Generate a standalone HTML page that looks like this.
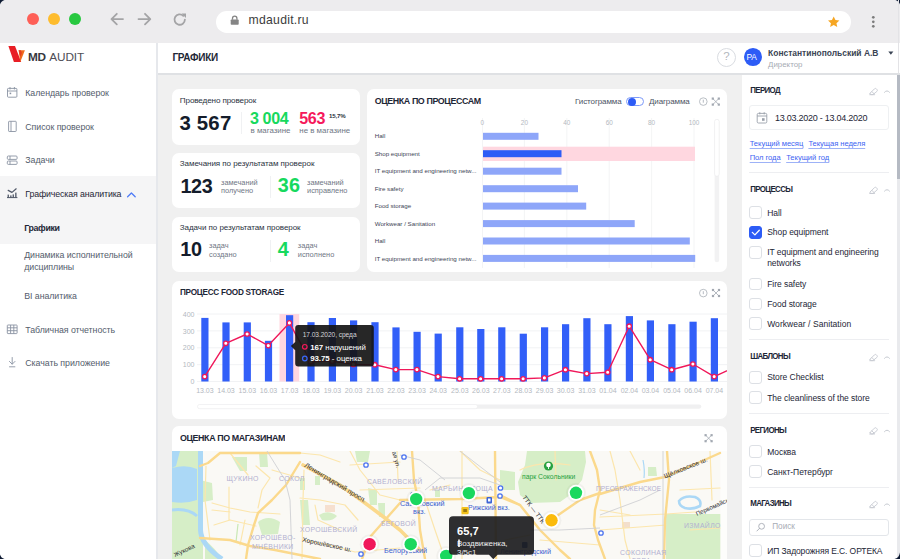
<!DOCTYPE html>
<html><head><meta charset="utf-8">
<style>
*{margin:0;padding:0;box-sizing:border-box}
html,body{width:900px;height:559px;overflow:hidden;background:#f0f0f0;font-family:"Liberation Sans",sans-serif;color:#1a2233}
.a{position:absolute;white-space:nowrap}
svg{position:absolute;overflow:visible}
.card{position:absolute;background:#fff;border-radius:7px;overflow:hidden}
.cb{position:absolute;left:749.3px;width:12.6px;height:12.6px;border:1px solid #dde0e5;border-radius:3px;background:#fff}
.sep{position:absolute;left:749.3px;width:140px;height:1px;background:#edeef1}
</style></head><body>
<div class="a" style="left:0;top:0;width:900px;height:43px;background:#edecee"></div>
<div class="a" style="left:26.8px;top:12.8px;width:12.4px;height:12.4px;border-radius:50%;background:#fe5f57"></div>
<div class="a" style="left:47.8px;top:12.8px;width:12.4px;height:12.4px;border-radius:50%;background:#febc2e"></div>
<div class="a" style="left:68.8px;top:12.8px;width:12.4px;height:12.4px;border-radius:50%;background:#28c840"></div>
<svg style="left:0;top:0" width="900" height="43" viewBox="0 0 900 43">
<g fill="none" stroke="#a4a4a6" stroke-width="1.8" stroke-linecap="round" stroke-linejoin="round">
<path d="M111.5 19.1h11.5M116.8 13.8l-5.3 5.3 5.3 5.3"/>
<path d="M138.5 19.1h11.5M145 13.8l5.3 5.3-5.3 5.3"/>
<path d="M184.9 19.6a5.2 5.2 0 1 1-1.6-3.8"/>
</g><path d="M181.6 13.6h4.4v4.4z" fill="#a4a4a6"/></svg>
<div class="a" style="left:216.4px;top:11.2px;width:634.5px;height:21.4px;background:#fff;border-radius:10.7px"></div>
<svg style="left:0;top:0" width="900" height="43" viewBox="0 0 900 43">
<path d="M232.5 19.8v-1.5a2.2 2.2 0 0 1 4.4 0v1.5" fill="none" stroke="#858585" stroke-width="1.3"/>
<rect x="230.7" y="19.4" width="8" height="5.3" rx="0.8" fill="#858585"/>
<path d="M833.7 16.4l1.75 3.6 3.95.45-2.95 2.7.8 3.9-3.55-2-3.55 2 .8-3.9-2.95-2.7 3.95-.45z" fill="#f6a623"/>
<circle cx="873.3" cy="17.3" r="1.35" fill="#7c7c7c"/><circle cx="873.3" cy="21.8" r="1.35" fill="#7c7c7c"/><circle cx="873.3" cy="26.3" r="1.35" fill="#7c7c7c"/>
</svg>
<div class="a" style="left:248.60px;top:14.07px;font-size:12.2px;line-height:12.2px;font-weight:normal;color:#3c3c3c;letter-spacing:0.27px;">mdaudit.ru</div>
<div class="a" style="left:0;top:43px;width:156px;height:516px;background:#fff"></div>
<div class="a" style="left:156px;top:43px;width:1.5px;height:516px;background:#e6e8ec"></div>
<div class="a" style="left:0;top:176.3px;width:156px;height:67.4px;background:#f5f5f6"></div>
<svg style="left:0;top:0" width="60" height="70" viewBox="0 0 60 70">
<path d="M8.4 46.1h6.6l6.2 15.9h-7.3z" fill="#e81e25"/>
<path d="M18.6 50.2h6.3l-4.6 11.8z" fill="#f06a1c"/>
<path d="M18.6 50.2h2.2l1.1 2.9-1.5 3.6z" fill="#e43f22"/>
</svg>
<div class="a" style="left:27.90px;top:52.01px;font-size:11.8px;line-height:11.8px;font-weight:bold;color:#38383f;letter-spacing:-0.3px;">MD</div>
<div class="a" style="left:49.30px;top:52.01px;font-size:11.8px;line-height:11.8px;font-weight:normal;color:#4e4e56;letter-spacing:-0.15px;">AUDIT</div>
<div class="a" style="left:25.30px;top:88.65px;font-size:8.8px;line-height:8.8px;font-weight:normal;color:#545d6c;letter-spacing:-0.05px;">Календарь проверок</div>
<div class="a" style="left:25.30px;top:122.65px;font-size:8.8px;line-height:8.8px;font-weight:normal;color:#545d6c;letter-spacing:-0.05px;">Список проверок</div>
<div class="a" style="left:25.30px;top:156.45px;font-size:8.8px;line-height:8.8px;font-weight:normal;color:#545d6c;letter-spacing:-0.05px;">Задачи</div>
<div class="a" style="left:25.30px;top:326.05px;font-size:8.8px;line-height:8.8px;font-weight:normal;color:#545d6c;letter-spacing:-0.05px;">Табличная отчетность</div>
<div class="a" style="left:25.30px;top:359.15px;font-size:8.8px;line-height:8.8px;font-weight:normal;color:#545d6c;letter-spacing:-0.05px;">Скачать приложение</div>
<div class="a" style="left:25.30px;top:190.35px;font-size:8.8px;line-height:8.8px;font-weight:normal;color:#1f2737;letter-spacing:-0.13px;">Графическая аналитика</div>
<div class="a" style="left:24.20px;top:224.05px;font-size:8.8px;line-height:8.8px;font-weight:bold;color:#1f2737;letter-spacing:-0.35px;">Графики</div>
<div class="a" style="left:24.20px;top:250.95px;font-size:8.8px;line-height:8.8px;font-weight:normal;color:#545d6c;letter-spacing:-0.05px;">Динамика исполнительной</div>
<div class="a" style="left:24.20px;top:262.95px;font-size:8.8px;line-height:8.8px;font-weight:normal;color:#545d6c;letter-spacing:-0.05px;">дисциплины</div>
<div class="a" style="left:24.20px;top:292.15px;font-size:8.8px;line-height:8.8px;font-weight:normal;color:#545d6c;letter-spacing:-0.05px;">BI аналитика</div>
<svg style="left:0;top:0" width="157" height="400" viewBox="0 0 157 400">
<g fill="none" stroke="#8a93a3" stroke-width="0.9">
<rect x="7.5" y="88.4" width="9.4" height="8.8" rx="0.8"/><path d="M7.5 91h9.4M10 87v2.5M14.4 87v2.5"/><rect x="9.6" y="92.6" width="1.6" height="1.6" fill="#8a93a3" stroke="none"/>
<rect x="8.6" y="121.3" width="7.6" height="10.2" rx="0.6"/><path d="M11 121.3v10.2"/>
<rect x="7.3" y="156" width="9.8" height="3.4" rx="1"/><rect x="7.3" y="161" width="9.8" height="3.4" rx="1"/><path d="M10 156v3.4M10 161v3.4"/>

<rect x="7.3" y="325" width="9.8" height="8.6" rx="0.6"/><path d="M7.3 327.8h9.8M7.3 330.7h9.8M10.6 325v8.6M13.8 325v8.6"/>
<path d="M12.2 357.5v6.5M9.4 361.4l2.8 2.8 2.8-2.8M9.5 366.8h5.4" stroke-linecap="round"/>
</g>
<g fill="none" stroke="#4f5767" stroke-width="1.2" stroke-linecap="round" stroke-linejoin="round"><path d="M8.2 190.4L12 192.4L16.2 188.8"/><path d="M7.4 197.6H17" stroke-width="1"/></g><g fill="#4f5767"><rect x="7.6" y="194.6" width="1.3" height="3"/><rect x="10.2" y="195.4" width="1.3" height="2.2"/><rect x="12.6" y="194.4" width="1.3" height="3.2"/><rect x="15.2" y="192.6" width="1.3" height="5"/></g>
<path d="M127.6 196.8l3.8-3.8 3.8 3.8" fill="none" stroke="#4f7cf7" stroke-width="1.3" stroke-linecap="round" stroke-linejoin="round"/>
</svg>
<div class="a" style="left:157.5px;top:43px;width:742.5px;height:30.5px;background:#fff"></div>
<div class="a" style="left:157.5px;top:73px;width:742.5px;height:2px;background:#dfe1e4"></div>
<div class="a" style="left:172.50px;top:53.14px;font-size:10.0px;line-height:10.0px;font-weight:bold;color:#1f2838;letter-spacing:-0.3px;">ГРАФИКИ</div>
<div class="a" style="left:716.8px;top:47.6px;width:19px;height:19px;border:1px solid #d9dce1;border-radius:50%"></div>
<div class="a" style="left:723.20px;top:51.47px;font-size:11.5px;line-height:11.5px;font-weight:normal;color:#b2b6bd;letter-spacing:0px;">?</div>
<div class="a" style="left:743.8px;top:48px;width:17.8px;height:17.8px;border-radius:50%;background:#2d5cf6"></div>
<div class="a" style="left:746.50px;top:52.89px;font-size:8.4px;line-height:8.4px;font-weight:normal;color:#fff;letter-spacing:-0.2px;">PA</div>
<div class="a" style="left:768.10px;top:48.95px;font-size:8.45px;line-height:8.45px;font-weight:bold;color:#3a4454;letter-spacing:0px;">Константинопольский А.В</div>
<div class="a" style="left:768.10px;top:60.71px;font-size:7.9px;line-height:7.9px;font-weight:normal;color:#a7acb4;letter-spacing:0px;">Директор</div>
<svg style="left:0;top:0" width="900" height="74"><path d="M888.3 51.6h5.1l-2.55 3.1z" fill="#3a4454"/></svg>
<div class="a" style="left:742px;top:75px;width:155px;height:485px;background:#fff"></div>
<div class="a" style="left:897px;top:75px;width:3px;height:485px;background:#e9eaed"></div>
<div class="a" style="left:897px;top:75px;width:3px;height:104px;background:#b5bac3"></div>
<div class="card" style="left:172.4px;top:89px;width:187.4px;height:56.30000000000001px;border-radius:7px"></div>
<div class="card" style="left:172.2px;top:153px;width:187.40000000000003px;height:55.400000000000006px;border-radius:7px"></div>
<div class="card" style="left:172.2px;top:217.2px;width:187.40000000000003px;height:55.10000000000002px;border-radius:7px"></div>
<div class="a" style="left:179.80px;top:96.94px;font-size:8.1px;line-height:8.1px;font-weight:normal;color:#2a3242;letter-spacing:-0.12px;">Проведено проверок</div>
<div class="a" style="left:179.40px;top:112.53px;font-size:20.4px;line-height:20.4px;font-weight:bold;color:#141c2b;letter-spacing:0.2px;">3 567</div>
<div class="a" style="left:241px;top:112px;width:1px;height:22px;background:#f0f1f3"></div>
<div class="a" style="left:250.00px;top:109.97px;font-size:16.1px;line-height:16.1px;font-weight:bold;color:#17d95e;letter-spacing:-0.4px;">3 004</div>
<div class="a" style="left:250.50px;top:126.61px;font-size:7.9px;line-height:7.9px;font-weight:normal;color:#6f7785;letter-spacing:0px;">в магазине</div>
<div class="a" style="left:299.30px;top:109.97px;font-size:16.1px;line-height:16.1px;font-weight:bold;color:#f5195b;letter-spacing:-0.4px;">563</div>
<div class="a" style="left:328.90px;top:113.04px;font-size:6.1px;line-height:6.1px;font-weight:bold;color:#2a3242;letter-spacing:-0.1px;">15,7%</div>
<div class="a" style="left:299.30px;top:126.61px;font-size:7.9px;line-height:7.9px;font-weight:normal;color:#6f7785;letter-spacing:0px;">не в магазине</div>
<div class="a" style="left:179.80px;top:160.43px;font-size:8.0px;line-height:8.0px;font-weight:normal;color:#2a3242;letter-spacing:-0.05px;">Замечания по результатам проверок</div>
<div class="a" style="left:180.40px;top:176.74px;font-size:19.8px;line-height:19.8px;font-weight:bold;color:#141c2b;letter-spacing:-0.3px;">123</div>
<div class="a" style="left:221.00px;top:178.64px;font-size:7.4px;line-height:7.4px;font-weight:normal;color:#6f7785;letter-spacing:0px;">замечаний</div>
<div class="a" style="left:221.00px;top:187.04px;font-size:7.4px;line-height:7.4px;font-weight:normal;color:#6f7785;letter-spacing:0px;">получено</div>
<div class="a" style="left:270px;top:176px;width:1px;height:22px;background:#f0f1f3"></div>
<div class="a" style="left:277.80px;top:176.14px;font-size:19.8px;line-height:19.8px;font-weight:bold;color:#17d95e;letter-spacing:0.2px;">36</div>
<div class="a" style="left:307.00px;top:178.64px;font-size:7.4px;line-height:7.4px;font-weight:normal;color:#6f7785;letter-spacing:0px;">замечаний</div>
<div class="a" style="left:307.00px;top:187.04px;font-size:7.4px;line-height:7.4px;font-weight:normal;color:#6f7785;letter-spacing:0px;">исправлено</div>
<div class="a" style="left:179.80px;top:224.03px;font-size:8.0px;line-height:8.0px;font-weight:normal;color:#2a3242;letter-spacing:-0.05px;">Задачи по результатам проверок</div>
<div class="a" style="left:180.20px;top:240.24px;font-size:19.8px;line-height:19.8px;font-weight:bold;color:#141c2b;letter-spacing:-0.3px;">10</div>
<div class="a" style="left:209.00px;top:242.14px;font-size:7.4px;line-height:7.4px;font-weight:normal;color:#6f7785;letter-spacing:0px;">задач</div>
<div class="a" style="left:209.00px;top:250.54px;font-size:7.4px;line-height:7.4px;font-weight:normal;color:#6f7785;letter-spacing:0px;">создано</div>
<div class="a" style="left:270px;top:240px;width:1px;height:22px;background:#f0f1f3"></div>
<div class="a" style="left:277.80px;top:240.24px;font-size:19.8px;line-height:19.8px;font-weight:bold;color:#17d95e;letter-spacing:-0.3px;">4</div>
<div class="a" style="left:297.80px;top:242.14px;font-size:7.4px;line-height:7.4px;font-weight:normal;color:#6f7785;letter-spacing:0px;">задач</div>
<div class="a" style="left:297.80px;top:250.54px;font-size:7.4px;line-height:7.4px;font-weight:normal;color:#6f7785;letter-spacing:0px;">исполнено</div>
<div class="card" style="left:367.4px;top:89px;width:359.4px;height:183.2px;border-radius:7px"></div>
<div class="a" style="left:374.70px;top:97.37px;font-size:8.9px;line-height:8.9px;font-weight:bold;color:#1d2636;letter-spacing:-0.4px;transform:scaleY(1.1);transform-origin:0 7.53px">ОЦЕНКА ПО ПРОЦЕССАМ</div>
<div class="a" style="left:575.00px;top:98.03px;font-size:8.0px;line-height:8.0px;font-weight:normal;color:#4b5363;letter-spacing:-0.1px;">Гистограмма</div>
<div class="a" style="left:649.00px;top:98.03px;font-size:8.0px;line-height:8.0px;font-weight:normal;color:#4b5363;letter-spacing:-0.1px;">Диаграмма</div>
<div class="a" style="left:626.4px;top:97.3px;width:17.6px;height:9px;border:1px solid #7d9af8;border-radius:4.5px"></div>
<div class="a" style="left:627.8px;top:97.5px;width:8.6px;height:8.6px;border-radius:50%;background:#2d5cf6"></div>
<svg style="left:0;top:0" width="900" height="559"><circle cx="703.3" cy="101.6" r="3.8" fill="none" stroke="#aeb3bb" stroke-width="0.85"/><path d="M703.3 99.69999999999999v3" stroke="#aeb3bb" stroke-width="0.9"/><g fill="none" stroke="#a3a9b3" stroke-width="0.8"><path d="M712.6999999999999 98.5L718.9 104.69999999999999M718.9 98.5L712.6999999999999 104.69999999999999"/></g><g fill="#a2a8b1"><rect x="711.6999999999999" y="97.5" width="2.2" height="2.2"/><rect x="717.6999999999999" y="97.5" width="2.2" height="2.2"/><rect x="711.6999999999999" y="103.49999999999999" width="2.2" height="2.2"/><rect x="717.6999999999999" y="103.49999999999999" width="2.2" height="2.2"/></g></svg>
<svg style="left:0;top:0" width="900" height="559" font-family="Liberation Sans">
<line x1="482.5" y1="118" x2="482.5" y2="268" stroke="#f0f1f3" stroke-width="0.8"/>
<line x1="524.4" y1="118" x2="524.4" y2="268" stroke="#f0f1f3" stroke-width="0.8"/>
<line x1="566.8" y1="118" x2="566.8" y2="268" stroke="#f0f1f3" stroke-width="0.8"/>
<line x1="609.2" y1="118" x2="609.2" y2="268" stroke="#f0f1f3" stroke-width="0.8"/>
<line x1="651.6" y1="118" x2="651.6" y2="268" stroke="#f0f1f3" stroke-width="0.8"/>
<line x1="694" y1="118" x2="694" y2="268" stroke="#f0f1f3" stroke-width="0.8"/>
<text x="482.4" y="124.6" text-anchor="middle" font-size="6.4" fill="#b3b8c0">0</text>
<text x="524.4" y="124.6" text-anchor="middle" font-size="6.4" fill="#b3b8c0">20</text>
<text x="566.8" y="124.6" text-anchor="middle" font-size="6.4" fill="#b3b8c0">40</text>
<text x="609.2" y="124.6" text-anchor="middle" font-size="6.4" fill="#b3b8c0">60</text>
<text x="651.6" y="124.6" text-anchor="middle" font-size="6.4" fill="#b3b8c0">80</text>
<text x="694" y="124.6" text-anchor="middle" font-size="6.4" fill="#b3b8c0">100</text>
<rect x="483" y="132.8" width="55.5" height="7" fill="#8ea6f9"/>
<text x="374.7" y="138.4" font-size="6.2" fill="#3e4656">Hall</text>
<rect x="483" y="146.7" width="212" height="14.3" fill="#ffd7e0"/>
<rect x="483" y="150.2" width="78.5" height="7" fill="#2d5cf6"/>
<text x="374.7" y="155.8" font-size="6.2" fill="#3e4656">Shop equipment</text>
<rect x="483" y="167.7" width="78.5" height="7" fill="#8ea6f9"/>
<text x="374.7" y="173.3" font-size="6.2" fill="#3e4656">IT equipment and engineering netw...</text>
<rect x="483" y="185.2" width="95.0" height="7" fill="#8ea6f9"/>
<text x="374.7" y="190.8" font-size="6.2" fill="#3e4656">Fire safety</text>
<rect x="483" y="202.6" width="103.2" height="7" fill="#8ea6f9"/>
<text x="374.7" y="208.2" font-size="6.2" fill="#3e4656">Food storage</text>
<rect x="483" y="220.1" width="151.7" height="7" fill="#8ea6f9"/>
<text x="374.7" y="225.7" font-size="6.2" fill="#3e4656">Workwear / Sanitation</text>
<rect x="483" y="237.5" width="206.8" height="7" fill="#8ea6f9"/>
<text x="374.7" y="243.1" font-size="6.2" fill="#3e4656">Hall</text>
<rect x="483" y="254.9" width="212.2" height="7" fill="#8ea6f9"/>
<text x="374.7" y="260.6" font-size="6.2" fill="#3e4656">IT equipment and engineering netw...</text>
<rect x="714.6" y="119.3" width="4.6" height="143" rx="2.3" fill="#f2f2f3"/>
<rect x="714.6" y="119.3" width="4.6" height="57" rx="2.3" fill="#fff" stroke="#ececee" stroke-width="0.7"/>
</svg>
<div class="card" style="left:172.4px;top:280.6px;width:554.6px;height:138.2px;border-radius:7px"></div>
<div class="a" style="left:180.00px;top:289.36px;font-size:8.2px;line-height:8.2px;font-weight:bold;color:#1d2636;letter-spacing:-0.27px;transform:scaleY(1.15);transform-origin:0 6.94px">ПРОЦЕСС FOOD STORAGE</div>
<svg style="left:0;top:0" width="900" height="559"><circle cx="703.3" cy="293.1" r="3.8" fill="none" stroke="#aeb3bb" stroke-width="0.85"/><path d="M703.3 291.20000000000005v3" stroke="#aeb3bb" stroke-width="0.9"/><g fill="none" stroke="#a3a9b3" stroke-width="0.8"><path d="M712.9 289.9L719.1 296.1M719.1 289.9L712.9 296.1"/></g><g fill="#a2a8b1"><rect x="711.9" y="288.9" width="2.2" height="2.2"/><rect x="717.9" y="288.9" width="2.2" height="2.2"/><rect x="711.9" y="294.90000000000003" width="2.2" height="2.2"/><rect x="717.9" y="294.90000000000003" width="2.2" height="2.2"/></g></svg>
<div class="a" style="left:172.4px;top:280.6px;width:554.6px;height:138.2px;overflow:hidden;border-radius:7px"><svg style="left:-172.4px;top:-280.6px" width="900" height="559" font-family="Liberation Sans"><line x1="197" y1="314" x2="727" y2="314" stroke="#f1f2f4" stroke-width="1"/>
<text x="194.5" y="316.6" text-anchor="end" font-size="7" fill="#b3b8c0">400</text>
<line x1="197" y1="330.9" x2="727" y2="330.9" stroke="#f1f2f4" stroke-width="1"/>
<text x="194.5" y="333.5" text-anchor="end" font-size="7" fill="#b3b8c0">300</text>
<line x1="197" y1="347.8" x2="727" y2="347.8" stroke="#f1f2f4" stroke-width="1"/>
<text x="194.5" y="350.4" text-anchor="end" font-size="7" fill="#b3b8c0">200</text>
<line x1="197" y1="364.7" x2="727" y2="364.7" stroke="#f1f2f4" stroke-width="1"/>
<text x="194.5" y="367.3" text-anchor="end" font-size="7" fill="#b3b8c0">100</text>
<line x1="197" y1="381.5" x2="727" y2="381.5" stroke="#f1f2f4" stroke-width="1"/>
<text x="194.5" y="384.1" text-anchor="end" font-size="7" fill="#b3b8c0">0</text>
<rect x="279.5" y="314" width="19.7" height="67.5" fill="#ffd7e0"/>
<rect x="201.3" y="317.9" width="7.2" height="63.6" fill="#325ff8"/>
<rect x="222.4" y="322.4" width="7.2" height="59.1" fill="#325ff8"/>
<rect x="243.7" y="322.4" width="7.2" height="59.1" fill="#325ff8"/>
<rect x="264.9" y="340.8" width="7.2" height="40.7" fill="#325ff8"/>
<rect x="286.0" y="315.2" width="7.2" height="66.3" fill="#325ff8"/>
<rect x="307.4" y="322.2" width="7.2" height="59.3" fill="#325ff8"/>
<rect x="328.8" y="318.0" width="7.2" height="63.5" fill="#325ff8"/>
<rect x="350.0" y="320.4" width="7.2" height="61.1" fill="#325ff8"/>
<rect x="371.4" y="322.2" width="7.2" height="59.3" fill="#325ff8"/>
<rect x="392.4" y="327.4" width="7.2" height="54.1" fill="#325ff8"/>
<rect x="413.5" y="331.8" width="7.2" height="49.7" fill="#325ff8"/>
<rect x="434.6" y="333.6" width="7.2" height="47.9" fill="#325ff8"/>
<rect x="456.2" y="327.3" width="7.2" height="54.2" fill="#325ff8"/>
<rect x="477.2" y="329.0" width="7.2" height="52.5" fill="#325ff8"/>
<rect x="498.2" y="327.3" width="7.2" height="54.2" fill="#325ff8"/>
<rect x="519.7" y="333.7" width="7.2" height="47.8" fill="#325ff8"/>
<rect x="541.0" y="327.3" width="7.2" height="54.2" fill="#325ff8"/>
<rect x="562.0" y="324.2" width="7.2" height="57.3" fill="#325ff8"/>
<rect x="583.3" y="318.2" width="7.2" height="63.3" fill="#325ff8"/>
<rect x="604.3" y="324.2" width="7.2" height="57.3" fill="#325ff8"/>
<rect x="625.8" y="316.1" width="7.2" height="65.4" fill="#325ff8"/>
<rect x="646.8" y="320.4" width="7.2" height="61.1" fill="#325ff8"/>
<rect x="668.3" y="324.2" width="7.2" height="57.3" fill="#325ff8"/>
<rect x="689.5" y="321.7" width="7.2" height="59.8" fill="#325ff8"/>
<rect x="710.8" y="318.2" width="7.2" height="63.3" fill="#325ff8"/>
<polyline points="204.7,376.6 225.8,343.3 247.1,334.0 268.3,345.6 289.4,322.9 310.8,361.7 332.2,361.1 353.4,364.4 374.8,364.7 395.8,369.6 416.9,369.6 438.0,376.6 459.6,378.8 480.6,378.8 501.6,378.8 523.1,378.8 544.4,377.9 565.4,369.7 586.7,373.6 607.7,372.3 629.2,326.2 650.2,359.7 671.7,369.7 692.9,364.0 714.2,376.6 735,367" fill="none" stroke="#f0185a" stroke-width="1.4" stroke-linejoin="round"/>
<circle cx="204.7" cy="376.6" r="2.2" fill="#fff" stroke="#f0185a" stroke-width="1.3"/>
<circle cx="225.8" cy="343.3" r="2.2" fill="#fff" stroke="#f0185a" stroke-width="1.3"/>
<circle cx="247.1" cy="334.0" r="2.2" fill="#fff" stroke="#f0185a" stroke-width="1.3"/>
<circle cx="268.3" cy="345.6" r="2.2" fill="#fff" stroke="#f0185a" stroke-width="1.3"/>
<circle cx="289.4" cy="322.9" r="2.2" fill="#fff" stroke="#f0185a" stroke-width="1.3"/>
<circle cx="310.8" cy="361.7" r="2.2" fill="#fff" stroke="#f0185a" stroke-width="1.3"/>
<circle cx="332.2" cy="361.1" r="2.2" fill="#fff" stroke="#f0185a" stroke-width="1.3"/>
<circle cx="353.4" cy="364.4" r="2.2" fill="#fff" stroke="#f0185a" stroke-width="1.3"/>
<circle cx="374.8" cy="364.7" r="2.2" fill="#fff" stroke="#f0185a" stroke-width="1.3"/>
<circle cx="395.8" cy="369.6" r="2.2" fill="#fff" stroke="#f0185a" stroke-width="1.3"/>
<circle cx="416.9" cy="369.6" r="2.2" fill="#fff" stroke="#f0185a" stroke-width="1.3"/>
<circle cx="438.0" cy="376.6" r="2.2" fill="#fff" stroke="#f0185a" stroke-width="1.3"/>
<circle cx="459.6" cy="378.8" r="2.2" fill="#fff" stroke="#f0185a" stroke-width="1.3"/>
<circle cx="480.6" cy="378.8" r="2.2" fill="#fff" stroke="#f0185a" stroke-width="1.3"/>
<circle cx="501.6" cy="378.8" r="2.2" fill="#fff" stroke="#f0185a" stroke-width="1.3"/>
<circle cx="523.1" cy="378.8" r="2.2" fill="#fff" stroke="#f0185a" stroke-width="1.3"/>
<circle cx="544.4" cy="377.9" r="2.2" fill="#fff" stroke="#f0185a" stroke-width="1.3"/>
<circle cx="565.4" cy="369.7" r="2.2" fill="#fff" stroke="#f0185a" stroke-width="1.3"/>
<circle cx="586.7" cy="373.6" r="2.2" fill="#fff" stroke="#f0185a" stroke-width="1.3"/>
<circle cx="607.7" cy="372.3" r="2.2" fill="#fff" stroke="#f0185a" stroke-width="1.3"/>
<circle cx="629.2" cy="326.2" r="2.2" fill="#fff" stroke="#f0185a" stroke-width="1.3"/>
<circle cx="650.2" cy="359.7" r="2.2" fill="#fff" stroke="#f0185a" stroke-width="1.3"/>
<circle cx="671.7" cy="369.7" r="2.2" fill="#fff" stroke="#f0185a" stroke-width="1.3"/>
<circle cx="692.9" cy="364.0" r="2.2" fill="#fff" stroke="#f0185a" stroke-width="1.3"/>
<circle cx="714.2" cy="376.6" r="2.2" fill="#fff" stroke="#f0185a" stroke-width="1.3"/>
<text x="204.9" y="392.8" text-anchor="middle" font-size="7" fill="#b3b8c0">13.03</text>
<text x="226.0" y="392.8" text-anchor="middle" font-size="7" fill="#b3b8c0">14.03</text>
<text x="247.3" y="392.8" text-anchor="middle" font-size="7" fill="#b3b8c0">15.03</text>
<text x="268.5" y="392.8" text-anchor="middle" font-size="7" fill="#b3b8c0">16.03</text>
<text x="289.6" y="392.8" text-anchor="middle" font-size="7" fill="#b3b8c0">17.03</text>
<text x="311.0" y="392.8" text-anchor="middle" font-size="7" fill="#b3b8c0">18.03</text>
<text x="332.4" y="392.8" text-anchor="middle" font-size="7" fill="#b3b8c0">19.03</text>
<text x="353.6" y="392.8" text-anchor="middle" font-size="7" fill="#b3b8c0">20.03</text>
<text x="375.0" y="392.8" text-anchor="middle" font-size="7" fill="#b3b8c0">21.03</text>
<text x="396.0" y="392.8" text-anchor="middle" font-size="7" fill="#b3b8c0">22.03</text>
<text x="417.1" y="392.8" text-anchor="middle" font-size="7" fill="#b3b8c0">23.03</text>
<text x="438.2" y="392.8" text-anchor="middle" font-size="7" fill="#b3b8c0">24.03</text>
<text x="459.8" y="392.8" text-anchor="middle" font-size="7" fill="#b3b8c0">25.03</text>
<text x="480.8" y="392.8" text-anchor="middle" font-size="7" fill="#b3b8c0">26.03</text>
<text x="501.8" y="392.8" text-anchor="middle" font-size="7" fill="#b3b8c0">27.03</text>
<text x="523.3" y="392.8" text-anchor="middle" font-size="7" fill="#b3b8c0">28.03</text>
<text x="544.6" y="392.8" text-anchor="middle" font-size="7" fill="#b3b8c0">29.03</text>
<text x="565.6" y="392.8" text-anchor="middle" font-size="7" fill="#b3b8c0">30.03</text>
<text x="586.9" y="392.8" text-anchor="middle" font-size="7" fill="#b3b8c0">31.03</text>
<text x="607.9" y="392.8" text-anchor="middle" font-size="7" fill="#b3b8c0">01.04</text>
<text x="629.4" y="392.8" text-anchor="middle" font-size="7" fill="#b3b8c0">02.04</text>
<text x="650.4" y="392.8" text-anchor="middle" font-size="7" fill="#b3b8c0">03.04</text>
<text x="671.9" y="392.8" text-anchor="middle" font-size="7" fill="#b3b8c0">05.04</text>
<text x="693.1" y="392.8" text-anchor="middle" font-size="7" fill="#b3b8c0">06.04</text>
<text x="714.4" y="392.8" text-anchor="middle" font-size="7" fill="#b3b8c0">07.04</text>
<rect x="197.5" y="404.5" width="503.8" height="4.2" rx="2.1" fill="#f0f0f1"/><rect x="197.5" y="404.5" width="280" height="4.2" rx="2.1" fill="#fff" stroke="#ececee" stroke-width="0.6"/></svg></div>
<svg style="left:0;top:0" width="900" height="559" font-family="Liberation Sans">
<path d="M298.2 324.9h72.6a3 3 0 0 1 3 3v35.6a3 3 0 0 1-3 3h-72.6a3 3 0 0 1-3-3v-13.3l-4.3-4.1 4.3-4.1v-14.1a3 3 0 0 1 3-3z" fill="#151515" fill-opacity="0.92"/>
<text x="302.7" y="337.2" font-size="6.6" fill="#d4d4d6" letter-spacing="-0.05">17.03.2020, среда</text>
<circle cx="304.8" cy="346.8" r="2.3" fill="none" stroke="#f5195b" stroke-width="1.2"/>
<text x="310.2" y="349.7" font-size="7.9" fill="#fff" letter-spacing="-0.05"><tspan font-weight="bold">167</tspan> нарушений</text>
<circle cx="304.8" cy="358.5" r="2.3" fill="none" stroke="#3b66f7" stroke-width="1.2"/>
<text x="310.2" y="361.4" font-size="7.9" fill="#fff" letter-spacing="-0.05"><tspan font-weight="bold">93.75</tspan> - оценка</text>
</svg>
<div class="card" style="left:172.4px;top:426px;width:554.6px;height:154px;border-radius:7px"></div>
<div class="a" style="left:180.00px;top:434.17px;font-size:8.9px;line-height:8.9px;font-weight:bold;color:#1d2636;letter-spacing:-0.4px;transform:scaleY(1.1);transform-origin:0 7.53px">ОЦЕНКА ПО МАГАЗИНАМ</div>
<svg style="left:0;top:0" width="900" height="559"><g fill="none" stroke="#a3a9b3" stroke-width="0.8"><path d="M705.5 435.09999999999997L711.7 441.3M711.7 435.09999999999997L705.5 441.3"/></g><g fill="#a2a8b1"><rect x="704.5" y="434.09999999999997" width="2.2" height="2.2"/><rect x="710.5" y="434.09999999999997" width="2.2" height="2.2"/><rect x="704.5" y="440.1" width="2.2" height="2.2"/><rect x="710.5" y="440.1" width="2.2" height="2.2"/></g></svg>
<div class="a" style="left:172.4px;top:450.7px;width:554.6px;height:110px;overflow:hidden;background:#f8f6f0"><svg style="left:-172.4px;top:-450.7px" width="900" height="600" font-family="Liberation Sans"><rect x="172" y="450" width="560" height="120" fill="#faf9f5"/>
<rect x="720.3" y="450" width="10" height="120" fill="#fdfdfb"/>
<path d="M172 451H203V559H172z" fill="#d6eec7"/>
<path d="M205 540Q215 548 222 559H205z" fill="#d6eec7"/>
<path d="M200 480L212 483L213 500L203 502z" fill="#d6eec7"/>
<path d="M232 457L247 457L247 471L240 471z" fill="#d6eec7"/>
<path d="M259 452L267 452L268 467L260 467z" fill="#d6eec7"/>
<path d="M258 522Q268 514 280 522L278 534L262 535z" fill="#d6eec7"/>
<path d="M300 478L305 478L305 490L300 490z" fill="#d6eec7"/>
<path d="M315 476L320 476L320 485L315 485z" fill="#d6eec7"/>
<path d="M300 500L308 500L310 525L302 525z" fill="#d6eec7"/>
<path d="M319 515Q328 509 337 516Q332 522 322 520z" fill="#d6eec7"/>
<path d="M355 451L370 451L368 462L357 462z" fill="#d6eec7"/>
<path d="M368 488L377 490L377 505L370 505z" fill="#d6eec7"/>
<path d="M378 503L385 503L385 517L379 517z" fill="#d6eec7"/>
<path d="M435 490L440 490L440 497L435 497z" fill="#d6eec7"/>
<path d="M527 451H585L586 462L582 480L570 495L560 502L530 503L520 495L518 482L525 465z" fill="#d6eec7"/>
<path d="M500 470L515 472L515 490L500 490z" fill="#d6eec7"/>
<path d="M648 467L656 467L657 476L648 476z" fill="#d6eec7"/>
<path d="M666 514H720.3V559H666z" fill="#d6eec7"/>
<path d="M622 522L630 522L630 528L622 528z" fill="#f3dfcc"/>
<path d="M325 505L335 505L335 512L325 512z" fill="#f6e0cf"/>
<path d="M172 451H180L176 466L172 468z" fill="#abd8f6"/>
<path d="M180 453Q192 451 197 455L197 466Q188 470 179 466z" fill="#d6eec7"/>
<path d="M172 468Q186 464 197 469L197 500Q186 504 172 502z" fill="#abd8f6"/>
<path d="M200.5 451V530Q201 545 222 559" fill="none" stroke="#abd8f6" stroke-width="5"/>
<path d="M172 510Q188 508 197 516" fill="none" stroke="#abd8f6" stroke-width="3"/>
<path d="M679 501Q684 495 695 497Q702 500 700 506Q693 510 685 508Q679 506 679 501z" fill="none" stroke="#abd8f6" stroke-width="2.6"/>
<path d="M643 460Q645 470 644 478" fill="none" stroke="#abd8f6" stroke-width="1.2"/>
<path d="M206 466L205 500L210 540" fill="none" stroke="#fce6ad" stroke-width="1.2" stroke-linecap="round" stroke-linejoin="round"/>
<path d="M230 453L248 475M256 466L270 478L262 490L258 508M212 503L230 508L250 512L280 514M212 510L230 512M229 487L229 520M214 525L230 520L256 526" fill="none" stroke="#fce6ad" stroke-width="1.2" stroke-linecap="round" stroke-linejoin="round"/>
<path d="M300 453L320 455L340 462M304 470L303 500L302 559M300 498L320 500L345 505L358 520M315 505L318 520L340 530M303 540L330 545L355 552L400 548" fill="none" stroke="#fce6ad" stroke-width="1.2" stroke-linecap="round" stroke-linejoin="round"/>
<path d="M350 451L360 470L380 495L400 500M350 465L400 462M397 451L398 480M272 470L300 478" fill="none" stroke="#fce6ad" stroke-width="1.2" stroke-linecap="round" stroke-linejoin="round"/>
<path d="M425 500L435 530L445 559M460 451L480 470L500 480M462 451L462 559M430 490L450 485" fill="none" stroke="#fce6ad" stroke-width="1.2" stroke-linecap="round" stroke-linejoin="round"/>
<path d="M555 451L556 480M520 470Q540 460 570 465M610 451L615 470L620 500L625 540L630 559M600 517L666 514L695 512" fill="none" stroke="#fce6ad" stroke-width="1.2" stroke-linecap="round" stroke-linejoin="round"/>
<path d="M600 530L666 525M600 510L630 515M710 451L712 500M680 490L720 488M690 530L720 528M630 451L640 470" fill="none" stroke="#fce6ad" stroke-width="1.2" stroke-linecap="round" stroke-linejoin="round"/>
<path d="M240 545L245 520M360 490L420 488M540 540L600 545M505 540L530 535" fill="none" stroke="#fce6ad" stroke-width="1.2" stroke-linecap="round" stroke-linejoin="round"/>
<path d="M238 524L236 542" fill="none" stroke="#c9e8b4" stroke-width="1.2"/>
<path d="M200 466L208 463L220 453H300" fill="none" stroke="#fbd98c" stroke-width="2.4" stroke-linecap="round" stroke-linejoin="round"/>
<path d="M200 538L230 540L250 546L275 550L300 555L320 559" fill="none" stroke="#fbd98c" stroke-width="2.4" stroke-linecap="round" stroke-linejoin="round"/>
<path d="M300 462L286 485L272 500L258 513L254 525L248 545L246 559" fill="none" stroke="#fbd98c" stroke-width="2.4" stroke-linecap="round" stroke-linejoin="round"/>
<path d="M400 503L385 520L370 537L362 559" fill="none" stroke="#fbd98c" stroke-width="2.4" stroke-linecap="round" stroke-linejoin="round"/>
<path d="M412 451L414 480L418 500L420 530L425 559" fill="none" stroke="#fbd98c" stroke-width="2.4" stroke-linecap="round" stroke-linejoin="round"/>
<path d="M400 500L460 499L500 497L520 505" fill="none" stroke="#fbd98c" stroke-width="2.4" stroke-linecap="round" stroke-linejoin="round"/>
<path d="M495 451L496 559" fill="none" stroke="#fbd98c" stroke-width="2.4" stroke-linecap="round" stroke-linejoin="round"/>
<path d="M500 495L520 505L540 530L560 550L570 559" fill="none" stroke="#fbd98c" stroke-width="2.4" stroke-linecap="round" stroke-linejoin="round"/>
<path d="M551 520L580 500L600 493" fill="none" stroke="#fbd98c" stroke-width="2.4" stroke-linecap="round" stroke-linejoin="round"/>
<path d="M590 451L597 470L600 490L595 510L594 525L598 540L605 559" fill="none" stroke="#fbd98c" stroke-width="2.4" stroke-linecap="round" stroke-linejoin="round"/>
<path d="M600 494L620 488L640 482L665 477L700 462L720 453" fill="none" stroke="#fbd98c" stroke-width="2.4" stroke-linecap="round" stroke-linejoin="round"/>
<path d="M667 451L669 480L665 520L664 559" fill="none" stroke="#fbd98c" stroke-width="2.4" stroke-linecap="round" stroke-linejoin="round"/>
<path d="M303 465L340 485L365 503L385 518L400 530L420 550" fill="none" stroke="#fbd98c" stroke-width="3.6" stroke-linecap="round"/>
<path d="M267 451L285 480L290 500L292 559M400 455L420 460L445 480M425 490L440 478L480 478L500 485M460 451L500 482M530 530L560 530L600 528M600 515L640 500L660 490M663 451V559" fill="none" stroke="#cfd0d4" stroke-width="0.9"/>
<text x="279" y="480.5" font-size="6.9" fill="#b2b0d0" font-weight="normal" letter-spacing="0.35">СОКОЛ</text>
<text x="226.5" y="481" font-size="6.9" fill="#b2b0d0" font-weight="normal" letter-spacing="0.35">ЩУКИНО</text>
<text x="300" y="532" font-size="6.9" fill="#b2b0d0" font-weight="normal" letter-spacing="0.35">ХОРОШЁВСКИЙ</text>
<text x="250" y="539.5" font-size="6.9" fill="#b2b0d0" font-weight="normal" letter-spacing="0.35">ХОРОШЁВО-</text>
<text x="252" y="549" font-size="6.9" fill="#b2b0d0" font-weight="normal" letter-spacing="0.35">МНЁВНИКИ</text>
<text x="367" y="484" font-size="6.9" fill="#b2b0d0" font-weight="normal" letter-spacing="0.35">САВЁЛОВСКИЙ</text>
<text x="432" y="491" font-size="6.9" fill="#b2b0d0" font-weight="normal" letter-spacing="0.35">МАРЬИНА РОЩА</text>
<text x="381" y="526" font-size="6.9" fill="#b2b0d0" font-weight="normal" letter-spacing="0.35">БЕГОВОЙ</text>
<text x="596" y="490.5" font-size="6.5" fill="#b2b0d0" font-weight="normal" letter-spacing="0.1">ПРЕОБРАЖЕНСКОЕ</text>
<text x="684" y="528" font-size="6.9" fill="#b2b0d0" font-weight="normal" letter-spacing="0.35">ИЗМАЙЛО</text>
<text x="620" y="554.5" font-size="6.9" fill="#b2b0d0" font-weight="normal" letter-spacing="0.35">СОКОЛИНАЯ</text>
<text x="632" y="563" font-size="6.9" fill="#b2b0d0" font-weight="normal" letter-spacing="0.35">ГОРА</text>
<text x="304" y="466.5" font-size="6.9" fill="#2e2e33" font-weight="normal" letter-spacing="0" transform="rotate(31 304 466.5)">Ленинградский просп.</text>
<text x="302" y="541.5" font-size="6.6" fill="#2e2e33" font-weight="normal" letter-spacing="0" transform="rotate(12 302 541.5)">Хорошёвское ш.</text>
<text x="665" y="478.5" font-size="6.6" fill="#2e2e33" font-weight="normal" letter-spacing="0" transform="rotate(-22 665 478.5)">Щёлковское ш.</text>
<text x="697" y="516" font-size="6.2" fill="#2e2e33" font-weight="normal" letter-spacing="0" transform="rotate(-24 697 516)">Первомайская</text>
<text x="522" y="497.5" font-size="6.4" fill="#2e2e33" font-weight="normal" letter-spacing="0" transform="rotate(53 522 497.5)">ТТК — ТТК</text>
<text x="175" y="557" font-size="6.4" fill="#2e2e33" font-weight="normal" letter-spacing="0" transform="rotate(-25 175 557)">Жукова</text>
<text x="392" y="452" font-size="6.2" fill="#2e2e33" font-weight="normal" letter-spacing="0" transform="rotate(75 392 452)">ая ул.</text>
<text x="400" y="505.5" font-size="7.3" fill="#3d62d0" font-weight="normal" letter-spacing="0">Савёловский</text>
<text x="413" y="514" font-size="7.3" fill="#3d62d0" font-weight="normal" letter-spacing="0">вкз.</text>
<text x="468" y="509.8" font-size="7.0" fill="#3d62d0" font-weight="normal" letter-spacing="0">Рижский вкз.</text>
<text x="384" y="553" font-size="7.3" fill="#3d62d0" font-weight="normal" letter-spacing="0">Белорусский</text>
<text x="500" y="554" font-size="7.3" fill="#3d62d0" font-weight="normal" letter-spacing="0">Ленинградский</text>
<text x="522" y="478.8" font-size="6.8" fill="#27a140" font-weight="normal" letter-spacing="0">парк Сокольники</text>
<circle cx="366" cy="465" r="2.2" fill="#fff" stroke="#4b73f0" stroke-width="1.3"/>
<circle cx="361" cy="554" r="2.2" fill="#fff" stroke="#4b73f0" stroke-width="1.3"/>
<circle cx="404" cy="457" r="2.2" fill="#fff" stroke="#4b73f0" stroke-width="1.3"/>
<circle cx="500.5" cy="488" r="2.2" fill="#fff" stroke="#4b73f0" stroke-width="1.3"/>
<circle cx="500" cy="496" r="2.2" fill="#fff" stroke="#4b73f0" stroke-width="1.3"/>
<circle cx="601" cy="533" r="2.2" fill="#fff" stroke="#4b73f0" stroke-width="1.3"/>
<rect x="486.5" y="497" width="5.5" height="6.5" rx="1" fill="#3d64d6"/><rect x="488" y="498.5" width="2.5" height="3" fill="#fff"/>
<rect x="461.5" y="507" width="7.2" height="7.2" rx="1.3" fill="#f2c21b"/><rect x="463.3" y="509" width="3.6" height="3" fill="#9a7a10"/>
<rect x="522" y="542" width="5.5" height="6" rx="1" fill="#2b4aa8"/>
<circle cx="548.5" cy="466" r="4.6" fill="#27a140"/><circle cx="548.5" cy="465" r="2.3" fill="#fff"/><path d="M548.5 466v3" stroke="#fff" stroke-width="0.9"/>
<circle cx="413" cy="495" r="3" fill="#2b4aa8"/>
<circle cx="416.2" cy="499.1" r="10" fill="#000" opacity="0.035"/><circle cx="416.2" cy="499.1" r="8" fill="#fff"/><circle cx="416.2" cy="499.1" r="6.2" fill="#1ad85e"/>
<circle cx="468.9" cy="493.1" r="10" fill="#000" opacity="0.035"/><circle cx="468.9" cy="493.1" r="8" fill="#fff"/><circle cx="468.9" cy="493.1" r="6.2" fill="#1ad85e"/>
<circle cx="576" cy="492.8" r="10" fill="#000" opacity="0.035"/><circle cx="576" cy="492.8" r="8" fill="#fff"/><circle cx="576" cy="492.8" r="6.2" fill="#1ad85e"/>
<circle cx="410.7" cy="544.2" r="10" fill="#000" opacity="0.035"/><circle cx="410.7" cy="544.2" r="8" fill="#fff"/><circle cx="410.7" cy="544.2" r="6.2" fill="#1ad85e"/>
<circle cx="446.2" cy="556" r="10" fill="#000" opacity="0.035"/><circle cx="446.2" cy="556" r="8" fill="#fff"/><circle cx="446.2" cy="556" r="6.2" fill="#1ad85e"/>
<circle cx="369.6" cy="544.2" r="10" fill="#000" opacity="0.035"/><circle cx="369.6" cy="544.2" r="8" fill="#fff"/><circle cx="369.6" cy="544.2" r="6.2" fill="#f0175a"/>
<circle cx="551.5" cy="520.3" r="10" fill="#000" opacity="0.035"/><circle cx="551.5" cy="520.3" r="8" fill="#fff"/><circle cx="551.5" cy="520.3" r="6.2" fill="#fbbb0b"/>
<path d="M453.1 516.2h76.9a4 4 0 0 1 4 4v30.6a4 4 0 0 1-4 4h-32.4l-4.3 4.4-4.3-4.4h-36a4 4 0 0 1-4-4v-30.6a4 4 0 0 1 4-4z" fill="#1c1c1e" fill-opacity="0.92"/>
<text x="457" y="535.2" font-size="11.2" font-weight="bold" fill="#fff" letter-spacing="0">65,7</text>
<text x="457" y="546.2" font-size="8.0" fill="#ececec" letter-spacing="-0.05">Воздвиженка,</text>
<text x="457" y="554.6" font-size="8.0" fill="#ececec" letter-spacing="-0.05">3/5с1</text>
<rect x="458.2" y="539.5" width="1.6" height="7.5" fill="#fff"/></svg></div>
<div class="a" style="left:750.20px;top:87.41px;font-size:7.9px;line-height:7.9px;font-weight:bold;color:#1d2636;letter-spacing:-0.62px;transform:scaleY(1.1);transform-origin:0 6.69px">ПЕРИОД</div>
<svg style="left:0;top:0" width="900" height="559"><g fill="none" stroke="#c6cad1" stroke-width="0.9" stroke-linejoin="round" stroke-linecap="round"><path d="M870.2 93.1L874.4 88.89999999999999Q875.4 87.89999999999999 876.4 88.89999999999999L876.9 89.39999999999999Q877.9 90.39999999999999 876.9 91.39999999999999L873.0 94.6H870.8Q869.4 94.0 870.2 93.1zM871.8 91.5L874.3 94.0M869.7 94.69999999999999H874.5"/><path d="M884.5 92.3Q887 89.3 889.5 92.3" stroke-width="1"/></g></svg>
<div class="a" style="left:749.3px;top:105.4px;width:139.7px;height:24.7px;border:1px solid #eef0f2;border-radius:3px"></div>
<svg style="left:0;top:0" width="900" height="559"><g fill="none" stroke="#9aa0aa" stroke-width="0.9">
<rect x="757.2" y="113.4" width="9.6" height="9.6" rx="1.2"/><path d="M757.2 116h9.6M759.8 112.2v2.2M764.2 112.2v2.2"/></g>
<rect x="762" y="118.2" width="2.6" height="2.6" fill="#9aa0aa"/></svg>
<div class="a" style="left:774.90px;top:113.68px;font-size:9.0px;line-height:9.0px;font-weight:normal;color:#1d2636;letter-spacing:-0.25px;">13.03.2020 - 13.04.2020</div>
<div class="a" style="left:749.70px;top:139.77px;font-size:7.6px;line-height:7.6px;font-weight:normal;color:#3d63f2;letter-spacing:-0.05px;text-decoration:underline;text-decoration-color:#9db2f7;text-underline-offset:1.5px">Текущий месяц</div>
<div class="a" style="left:808.40px;top:139.77px;font-size:7.6px;line-height:7.6px;font-weight:normal;color:#3d63f2;letter-spacing:-0.05px;text-decoration:underline;text-decoration-color:#9db2f7;text-underline-offset:1.5px">Текущая неделя</div>
<div class="a" style="left:749.70px;top:153.87px;font-size:7.6px;line-height:7.6px;font-weight:normal;color:#3d63f2;letter-spacing:-0.05px;text-decoration:underline;text-decoration-color:#9db2f7;text-underline-offset:1.5px">Пол года</div>
<div class="a" style="left:786.20px;top:153.87px;font-size:7.6px;line-height:7.6px;font-weight:normal;color:#3d63f2;letter-spacing:-0.05px;text-decoration:underline;text-decoration-color:#9db2f7;text-underline-offset:1.5px">Текущий год</div>
<div class="sep" style="top:172.1px"></div>
<div class="a" style="left:750.20px;top:186.21px;font-size:7.9px;line-height:7.9px;font-weight:bold;color:#1d2636;letter-spacing:-0.62px;transform:scaleY(1.1);transform-origin:0 6.69px">ПРОЦЕССЫ</div>
<svg style="left:0;top:0" width="900" height="559"><g fill="none" stroke="#c6cad1" stroke-width="0.9" stroke-linejoin="round" stroke-linecap="round"><path d="M870.2 191.9L874.4 187.70000000000002Q875.4 186.70000000000002 876.4 187.70000000000002L876.9 188.20000000000002Q877.9 189.20000000000002 876.9 190.20000000000002L873.0 193.4H870.8Q869.4 192.8 870.2 191.9zM871.8 190.3L874.3 192.8M869.7 193.5H874.5"/><path d="M884.5 191.1Q887 188.1 889.5 191.1" stroke-width="1"/></g></svg>
<div class="cb" style="top:206.3px"></div>
<div class="a" style="left:767.20px;top:208.60px;font-size:8.5px;line-height:8.5px;font-weight:normal;color:#1d2636;letter-spacing:-0.05px;">Hall</div>
<div class="cb" style="top:226px;background:#2d5cf6;border-color:#2d5cf6"></div>
<svg style="left:0;top:0" width="900" height="559"><path d="M752.3 232.4l2.6 2.5 4.4-4.6" fill="none" stroke="#fff" stroke-width="1.3" stroke-linecap="round" stroke-linejoin="round"/></svg>
<div class="a" style="left:767.20px;top:228.30px;font-size:8.5px;line-height:8.5px;font-weight:normal;color:#1d2636;letter-spacing:-0.05px;">Shop equipment</div>
<div class="cb" style="top:246px"></div>
<div class="a" style="left:767.20px;top:248.30px;font-size:8.5px;line-height:8.5px;font-weight:normal;color:#1d2636;letter-spacing:-0.05px;">IT equipment and engineering</div>
<div class="cb" style="top:277.5px"></div>
<div class="a" style="left:767.20px;top:279.80px;font-size:8.5px;line-height:8.5px;font-weight:normal;color:#1d2636;letter-spacing:-0.05px;">Fire safety</div>
<div class="cb" style="top:297.6px"></div>
<div class="a" style="left:767.20px;top:299.90px;font-size:8.5px;line-height:8.5px;font-weight:normal;color:#1d2636;letter-spacing:-0.05px;">Food storage</div>
<div class="cb" style="top:317.4px"></div>
<div class="a" style="left:767.20px;top:319.70px;font-size:8.5px;line-height:8.5px;font-weight:normal;color:#1d2636;letter-spacing:0.05px;">Workwear / Sanitation</div>
<div class="a" style="left:767.20px;top:259.30px;font-size:8.5px;line-height:8.5px;font-weight:normal;color:#1d2636;letter-spacing:-0.05px;">networks</div>
<div class="sep" style="top:338.9px"></div>
<div class="a" style="left:750.20px;top:353.41px;font-size:7.9px;line-height:7.9px;font-weight:bold;color:#1d2636;letter-spacing:-0.62px;transform:scaleY(1.1);transform-origin:0 6.69px">ШАБЛОНЫ</div>
<svg style="left:0;top:0" width="900" height="559"><g fill="none" stroke="#c6cad1" stroke-width="0.9" stroke-linejoin="round" stroke-linecap="round"><path d="M870.2 359.1L874.4 354.90000000000003Q875.4 353.90000000000003 876.4 354.90000000000003L876.9 355.40000000000003Q877.9 356.40000000000003 876.9 357.40000000000003L873.0 360.6H870.8Q869.4 360.0 870.2 359.1zM871.8 357.5L874.3 360.0M869.7 360.70000000000005H874.5"/><path d="M884.5 358.3Q887 355.3 889.5 358.3" stroke-width="1"/></g></svg>
<div class="cb" style="top:371.1px"></div>
<div class="a" style="left:767.20px;top:373.40px;font-size:8.5px;line-height:8.5px;font-weight:normal;color:#1d2636;letter-spacing:-0.05px;">Store Checklist</div>
<div class="cb" style="top:391.3px"></div>
<div class="a" style="left:767.20px;top:393.60px;font-size:8.5px;line-height:8.5px;font-weight:normal;color:#1d2636;letter-spacing:-0.05px;">The cleanliness of the store</div>
<div class="sep" style="top:413.3px"></div>
<div class="a" style="left:750.20px;top:426.71px;font-size:7.9px;line-height:7.9px;font-weight:bold;color:#1d2636;letter-spacing:-0.62px;transform:scaleY(1.1);transform-origin:0 6.69px">РЕГИОНЫ</div>
<svg style="left:0;top:0" width="900" height="559"><g fill="none" stroke="#c6cad1" stroke-width="0.9" stroke-linejoin="round" stroke-linecap="round"><path d="M870.2 432.4L874.4 428.2Q875.4 427.2 876.4 428.2L876.9 428.7Q877.9 429.7 876.9 430.7L873.0 433.9H870.8Q869.4 433.29999999999995 870.2 432.4zM871.8 430.79999999999995L874.3 433.29999999999995M869.7 434.0H874.5"/><path d="M884.5 431.59999999999997Q887 428.59999999999997 889.5 431.59999999999997" stroke-width="1"/></g></svg>
<div class="cb" style="top:445.4px"></div>
<div class="a" style="left:767.20px;top:447.70px;font-size:8.5px;line-height:8.5px;font-weight:normal;color:#1d2636;letter-spacing:-0.05px;">Москва</div>
<div class="cb" style="top:465.3px"></div>
<div class="a" style="left:767.20px;top:467.60px;font-size:8.5px;line-height:8.5px;font-weight:normal;color:#1d2636;letter-spacing:-0.05px;">Санкт-Петербург</div>
<div class="sep" style="top:487.1px"></div>
<div class="a" style="left:750.20px;top:500.41px;font-size:7.9px;line-height:7.9px;font-weight:bold;color:#1d2636;letter-spacing:-0.62px;transform:scaleY(1.1);transform-origin:0 6.69px">МАГАЗИНЫ</div>
<svg style="left:0;top:0" width="900" height="559"><g fill="none" stroke="#c6cad1" stroke-width="0.9" stroke-linejoin="round" stroke-linecap="round"><path d="M870.2 506.1L874.4 501.90000000000003Q875.4 500.90000000000003 876.4 501.90000000000003L876.9 502.40000000000003Q877.9 503.40000000000003 876.9 504.40000000000003L873.0 507.6H870.8Q869.4 507.0 870.2 506.1zM871.8 504.5L874.3 507.0M869.7 507.70000000000005H874.5"/><path d="M884.5 505.3Q887 502.3 889.5 505.3" stroke-width="1"/></g></svg>
<div class="a" style="left:749.3px;top:518.6px;width:140.1px;height:17px;border:1px solid #e3e6ea;border-radius:3px"></div>
<svg style="left:0;top:0" width="900" height="559"><g fill="none" stroke="#a8adb5" stroke-width="0.9"><circle cx="761.6" cy="526.3" r="2.9"/><path d="M759.5 528.4l-2.6 2.6" stroke-linecap="round"/></g></svg>
<div class="a" style="left:772.20px;top:522.96px;font-size:8.2px;line-height:8.2px;font-weight:normal;color:#a8adb5;letter-spacing:0px;">Поиск</div>
<div class="cb" style="top:544.4px"></div>
<div class="a" style="left:767.20px;top:546.70px;font-size:8.5px;line-height:8.5px;font-weight:normal;color:#1d2636;letter-spacing:-0.1px;">ИП Задорожняя Е.С. ОРТЕКА</div>
<svg style="left:0;top:0" width="900" height="559"><path d="M0 0H4.5Q1 1 0 4.5z" fill="#0e1a33"/><path d="M900 0H895.5Q899 1 900 4.5z" fill="#0e1a33"/><path d="M0 559H4.5Q1 558 0 554.5z" fill="#0e1a33"/><path d="M900 559H894.5Q899 558 900 552.5z" fill="#0e1a33"/></svg>
<div class="a" style="left:898.2px;top:0;width:1px;height:74px;background:#e3e3e6"></div>
</body></html>
